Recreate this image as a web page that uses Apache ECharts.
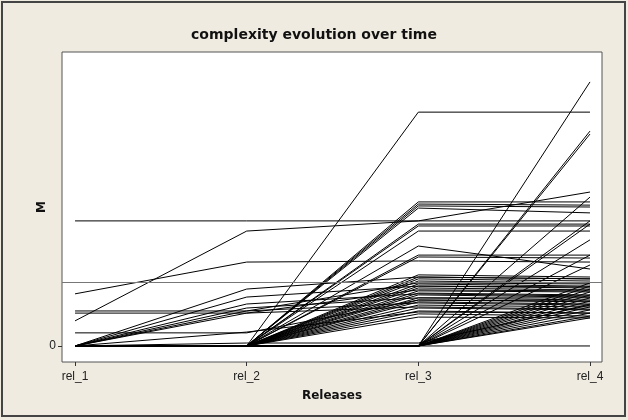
<!DOCTYPE html>
<html>
<head>
<meta charset="utf-8">
<title>complexity evolution over time</title>
<script src="https://cdn.jsdelivr.net/npm/echarts@6.0.0/dist/echarts.min.js"></script>
<style>
  body { margin: 0; }
  #chart { width: 628px; height: 420px; }
</style>
</head>
<body>
<div id="chart"></div>
<script>
// releases on the x axis
var releases = ['rel_1', 'rel_2', 'rel_3', 'rel_4']

// M per module, one entry per module, one array per release
var mRel1 = [46.8, 9.4, 19.5, 13.1, 12.3, 4.9,
  0, 0, 0, 0, 0, 0, 0, 0, 0, 0, 0, 0, 0, 0, 0, 0, 0, 0, 0, 0, 0, 0, 0, 0,
  0, 0, 0, 0, 0, 0, 0, 0, 0, 0, 0, 0, 0, 0, 0, 0, 0, 0, 0, 0, 0, 0, 0, 0,
  0, 0, 0, 0, 0, 0, 0, 0, 0, 0, 0, 0]
var mRel2 = [46.8, 43.0, 31.4, 13.1, 12.3, 4.9, 21.3, 18.3, 15.7, 14.2, 13.1, 12.3, 5.2, 1.1,
  0, 0, 0, 0, 0, 0, 0, 0, 0, 0, 0, 0, 0, 0, 0, 0, 0, 0, 0, 0, 0, 0, 0, 0,
  0, 0, 0, 0, 0, 0, 0, 0, 0, 0, 0, 0, 0, 0, 0, 0, 0, 0, 0, 0, 0, 0, 0, 0,
  0, 0, 0, 0]
var mRel3 = [46.8, 46.8, 31.8, 23.6, 21.0, 17.2, 25.8, 22.4, 19.5, 18.0, 16.1, 14.6, 12.7, 1.1,
  87.5, 53.9, 53.1, 52.4, 51.6, 45.6, 44.9, 43.0, 37.4, 34.0, 33.3,
  26.6, 25.8, 25.1, 24.3, 23.2, 22.4, 21.7, 20.6, 19.8, 19.1, 18.0, 17.2, 16.5, 15.3, 14.2, 13.1, 12.0, 10.8,
  0, 0, 0, 0, 0, 0, 0, 0, 0, 0, 0, 0, 0, 0, 0, 0, 0, 0, 0, 0, 0, 0, 0]
var mRel4 = [46.8, 57.6, 31.4, 23.2, 20.6, 16.8, 25.1, 22.1, 18.7, 17.2, 15.3, 13.8, 12.3, 15.3,
  87.5, 53.9, 52.7, 52.0, 49.8, 45.6, 44.9, 43.0, 28.8, 34.0, 32.9,
  25.8, 25.1, 24.3, 23.6, 22.4, 21.7, 21.0, 20.2, 19.1, 18.3, 18.0, 16.5, 15.7, 14.6, 13.5, 12.3, 11.2, 10.5,
  98.8, 80.4, 79.3, 55.7, 46.8, 45.6, 39.7, 34.0, 30.3, 23.6, 22.4, 21.3, 20.2, 19.1, 18.0, 16.8, 15.7,
  14.6, 13.5, 12.3, 11.2, 10.5, 0]

var yTicks = [0]
// horizontal reference line
var refM = 23.9

var myChart = echarts.init(document.getElementById('chart'))

var series = []
mRel1.forEach(function(v, i) {
  var vals = [mRel1[i], mRel2[i], mRel3[i], mRel4[i]]
  series.push({
    type: 'line',
    data: vals.map(function(m, k) { return [k, m] }),
    symbol: 'none',
    silent: true,
    lineStyle: { color: '#000', width: 1 }
  })
})
series[0].markLine = {
  silent: true,
  symbol: 'none',
  label: { show: false },
  lineStyle: { color: '#777', width: 1, type: 'solid' },
  data: [{ yAxis: refM }]
}

var option = {
  animation: false,
  backgroundColor: '#EFEBE1',
  textStyle: { fontFamily: 'Liberation Sans' },
  title: {
    text: 'complexity evolution over time',
    left: 'center',
    top: 23,
    textStyle: { fontFamily: 'DejaVu Sans', fontSize: 14, fontWeight: 'bold', color: '#111' }
  },
  graphic: [{
    type: 'rect',
    shape: { x: 2, y: 2, width: 623, height: 414 },
    style: { fill: null, stroke: '#444', lineWidth: 2 },
    silent: true
  }],
  grid: {
    left: 62,
    right: 26,
    top: 52,
    bottom: 58,
    show: true,
    backgroundColor: '#fff',
    borderColor: '#555',
    borderWidth: 1
  },
  xAxis: {
    type: 'value',
    min: -0.076,
    max: 3.07,
    name: 'Releases',
    nameLocation: 'middle',
    nameGap: 28,
    nameMoveOverlap: false,
    nameTextStyle: { fontFamily: 'DejaVu Sans', fontSize: 12, fontWeight: 'bold', color: '#111' },
    axisLine: { show: false, onZero: false },
    axisTick: { show: true, length: 4, customValues: [0, 1, 2, 3], lineStyle: { color: '#333' } },
    axisLabel: {
      customValues: [0, 1, 2, 3],
      margin: 9,
      fontSize: 12,
      color: '#222',
      formatter: function(v) { return releases[Math.round(v)] }
    },
    splitLine: { show: false }
  },
  yAxis: {
    type: 'value',
    min: -6,
    max: 110,
    name: 'M',
    nameLocation: 'middle',
    nameRotate: 90,
    nameGap: 14,
    nameMoveOverlap: false,
    nameTextStyle: { fontFamily: 'DejaVu Sans', fontSize: 12, fontWeight: 'bold', color: '#111' },
    axisLine: { show: false, onZero: false },
    axisTick: { show: true, length: 4, customValues: yTicks, lineStyle: { color: '#333' } },
    axisLabel: { customValues: yTicks, margin: 6, fontSize: 12, color: '#222' },
    splitLine: { show: false }
  },
  series: series
}

myChart.setOption(option)
</script>
</body>
</html>
